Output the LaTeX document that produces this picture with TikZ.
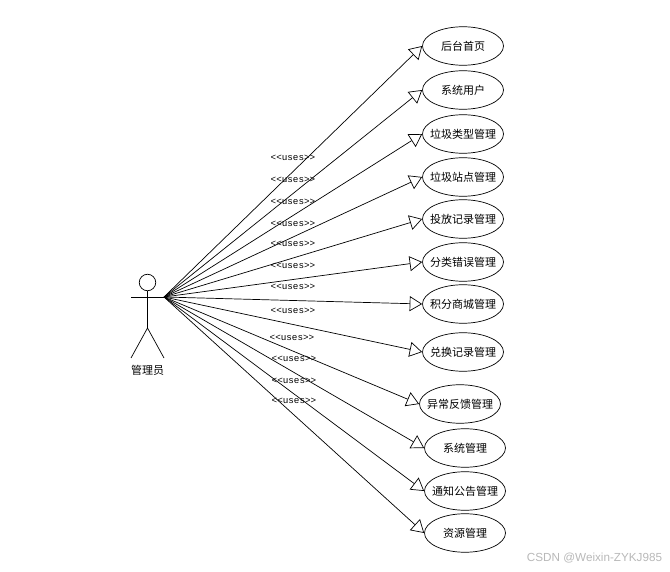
\documentclass[tikz,border=0pt]{standalone}
\usepackage{fontspec}
\setmainfont{Noto Sans CJK SC}
\newfontfamily\monofont{Liberation Mono}
\newfontfamily\markfont{Liberation Sans}
\usetikzlibrary{arrows.meta,shapes.geometric}
\begin{document}
\begin{tikzpicture}[
  x=1pt, y=-1pt,
  line width=0.7pt,
  usecase/.style={draw, ellipse, minimum width=81pt, minimum height=38.5pt, inner sep=-8pt, text height=9.5pt, text depth=0pt, font=\fontsize{11}{12}\selectfont},
  stereo/.style={inner sep=0pt, yshift=-1pt, font=\monofont\fontsize{9.3}{11}\selectfont},
  uses/.style={-{Triangle[length=12.5pt, width=15pt, fill=white]}},
  wmark/.style={inner sep=0pt, text=black!28, font=\markfont\fontsize{11.7}{14}\selectfont}
]
\useasboundingbox (0,0) rectangle (670,572);
% actor
\node[draw, circle, minimum size=16.5pt, inner sep=0pt] (head) at (147.5,282.5) {};
\coordinate (armleft) at (131,297);
\coordinate (hand) at (164,297);
\coordinate (hip) at (147.5,328);
\coordinate (footleft) at (131,358);
\coordinate (footright) at (164,358);
\draw (head) -- (hip);
\draw (armleft) -- (hand);
\draw (footleft) -- (hip) -- (footright);
\node[inner sep=0pt, font=\fontsize{11}{12}\selectfont] (admin) at (147.5,370) {管理员};
% use cases
\node[usecase] (home) at (463,46) {后台首页};
\node[usecase] (sysuser) at (463,90) {系统用户};
\node[usecase] (wastetype) at (463,134) {垃圾类型管理};
\node[usecase] (station) at (463,177) {垃圾站点管理};
\node[usecase] (record) at (463,219) {投放记录管理};
\node[usecase] (sorterror) at (463,262) {分类错误管理};
\node[usecase] (shop) at (463,304) {积分商城管理};
\node[usecase] (exchange) at (463,352) {兑换记录管理};
\node[usecase] (feedback) at (460,404) {异常反馈管理};
\node[usecase] (sysmgr) at (465,448) {系统管理};
\node[usecase] (notice) at (465,491) {通知公告管理};
\node[usecase] (resource) at (465,533) {资源管理};
% associations
\draw[uses] (hand) -- (home.west);
\draw[uses] (hand) -- (sysuser.west);
\draw[uses] (hand) -- (wastetype.west);
\draw[uses] (hand) -- (station.west);
\draw[uses] (hand) -- (record.west);
\draw[uses] (hand) -- (sorterror.west);
\draw[uses] (hand) -- (shop.west);
\draw[uses] (hand) -- (exchange.west);
\draw[uses] (hand) -- (feedback.west);
\draw[uses] (hand) -- (sysmgr.west);
\draw[uses] (hand) -- (notice.west);
\draw[uses] (hand) -- (resource.west);
% stereotypes
\node[stereo] (uses1) at (293,157) {<{}<uses>{}>};
\node[stereo] (uses2) at (293,179) {<{}<uses>{}>};
\node[stereo] (uses3) at (293,201) {<{}<uses>{}>};
\node[stereo] (uses4) at (293,223) {<{}<uses>{}>};
\node[stereo] (uses5) at (293,243) {<{}<uses>{}>};
\node[stereo] (uses6) at (293,265) {<{}<uses>{}>};
\node[stereo] (uses7) at (293,286) {<{}<uses>{}>};
\node[stereo] (uses8) at (293,310) {<{}<uses>{}>};
\node[stereo] (uses9) at (292,337) {<{}<uses>{}>};
\node[stereo] (uses10) at (294,358) {<{}<uses>{}>};
\node[stereo] (uses11) at (294,380) {<{}<uses>{}>};
\node[stereo] (uses12) at (294,400) {<{}<uses>{}>};
\node[wmark] (csdn) at (594.5,558) {CSDN @Weixin-ZYKJ985};
\end{tikzpicture}
\end{document}
